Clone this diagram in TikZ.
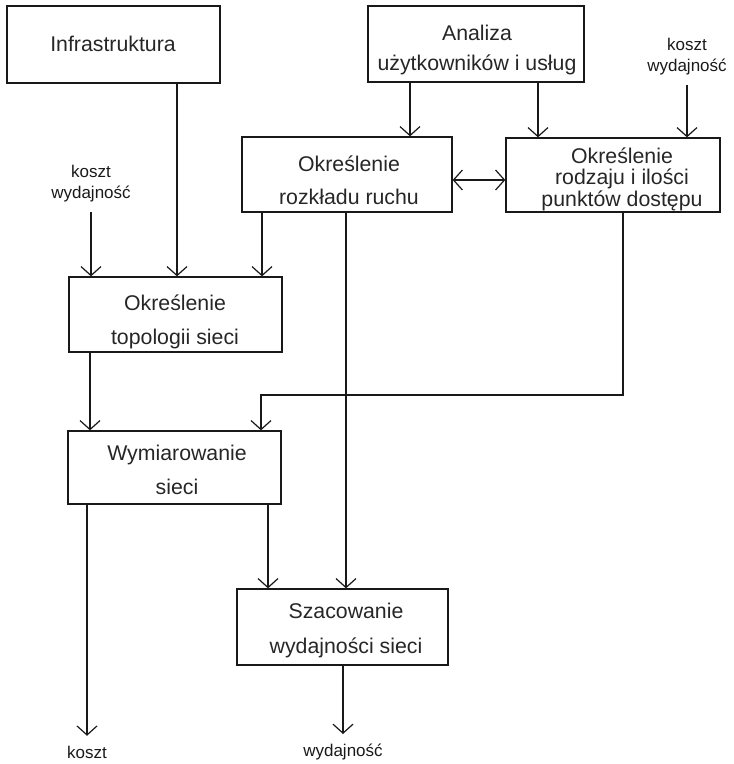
\documentclass[tikz,border=0pt]{standalone}
\usepackage{fontspec}
\setmainfont{Liberation Sans}
\usetikzlibrary{arrows.meta}
\begin{document}
\begin{tikzpicture}[x=1pt,y=-1pt,
  line width=1.2pt,
  box/.style={draw=black!90, line width=1.3pt, inner sep=0pt},
  txt/.style={align=center, inner sep=0pt, text=black!85},
  lbl/.style={align=center, inner sep=0pt, outer sep=10pt, text=black!90,
              font=\fontsize{17}{21}\selectfont},
  arr/.style={draw=black!90, -{Straight Barb[length=9pt,width=20pt]}},
  darr/.style={draw=black!90, {Straight Barb[length=9pt,width=20pt]}-{Straight Barb[length=9pt,width=20pt]}}]
\useasboundingbox (0,0) rectangle (734,764);

% boxes
\node[box, minimum width=213pt, minimum height=77pt] (infra) at (113.5,44.5) {};
\node[box, minimum width=216pt, minimum height=76pt] (anal) at (476,44) {};
\node[box, minimum width=210pt, minimum height=75pt] (rozk) at (347,174.5) {};
\node[box, minimum width=214pt, minimum height=74pt] (rodz) at (613,175) {};
\node[box, minimum width=213pt, minimum height=75pt] (topo) at (175.5,314.5) {};
\node[box, minimum width=213pt, minimum height=73pt] (wym) at (174.5,467.5) {};
\node[box, minimum width=211pt, minimum height=76pt] (szac) at (342.5,627) {};

% box captions
\node[txt, font=\fontsize{21.3}{30}\selectfont] (infra-t) at (113,44) {Infrastruktura};
\node[txt, font=\fontsize{21.3}{30}\selectfont] (anal-t) at (477,50) {Analiza\\użytkowników i usług};
\node[txt, font=\fontsize{21.3}{33}\selectfont] (rozk-t) at (349,180) {Określenie\\rozkładu ruchu};
\node[txt, font=\fontsize{21.3}{21.5}\selectfont] (rodz-t) at (622,179) {Określenie\\rodzaju i ilości\\punktów dostępu};
\node[txt, font=\fontsize{21.3}{34}\selectfont] (topo-t) at (175,322) {Określenie\\topologii sieci};
\node[txt, font=\fontsize{21.3}{34}\selectfont] (wym-t) at (177,470) {Wymiarowanie\\sieci};
\node[txt, font=\fontsize{21.3}{35}\selectfont] (szac-t) at (346,630) {Szacowanie\\wydajności sieci};

% free labels
\node[lbl] (lab-l) at (91,184) {koszt\\wydajność};
\node[lbl] (lab-r) at (687,57) {koszt\\wydajność};
\node[lbl] (lab-k) at (87,752) {koszt};
\node[lbl] (lab-w) at (343,752) {wydajność};

% column positions of the connectors
\coordinate (c-infra) at (177,0);
\coordinate (c-rozk1) at (262,0);
\coordinate (c-rozk2) at (346,0);
\coordinate (c-anal1) at (410,0);
\coordinate (c-anal2) at (538,0);
\coordinate (c-rodz) at (623,0);
\coordinate (c-topo) at (90,0);
\coordinate (c-wym1) at (87,0);
\coordinate (c-wym2) at (268,0);
\coordinate (c-szac) at (343,0);
\coordinate (bend) at (261,395);
\coordinate (r-mid) at (0,180);

% connectors
\draw[arr] (lab-l.south) -- (topo.north -| lab-l);
\draw[arr] (infra.south -| c-infra) -- (topo.north -| c-infra);
\draw[arr] (rozk.south -| c-rozk1) -- (topo.north -| c-rozk1);
\draw[arr] (anal.south -| c-anal1) -- (rozk.north -| c-anal1);
\draw[arr] (anal.south -| c-anal2) -- (rodz.north -| c-anal2);
\draw[arr] (lab-r.south) -- (rodz.north -| lab-r);
\draw[darr] (rozk.east |- r-mid) -- (rodz.west |- r-mid);
\draw[arr] (rozk.south -| c-rozk2) -- (szac.north -| c-rozk2);
\draw[arr] (rodz.south -| c-rodz) |- (bend) -- (wym.north -| bend);
\draw[arr] (topo.south -| c-topo) -- (wym.north -| c-topo);
\draw[arr] (wym.south -| c-wym1) -- (lab-k.north -| c-wym1);
\draw[arr] (wym.south -| c-wym2) -- (szac.north -| c-wym2);
\draw[arr] (szac.south -| c-szac) -- (lab-w.north -| c-szac);
\end{tikzpicture}
\end{document}
